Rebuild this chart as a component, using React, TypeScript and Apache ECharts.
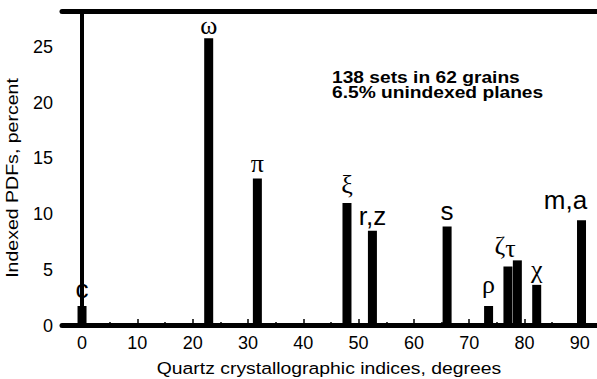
import React, { useEffect, useRef } from 'react';
import * as echarts from 'echarts';

// Quartz crystallographic planes: angle (degrees) and indexed PDFs (percent)
const angles = [0, 22.9, 31.7, 47.9, 52.5, 66.0, 73.5, 77.0, 78.7, 82.2, 90.3];
const percents = [1.75, 25.8, 13.2, 11.0, 8.5, 8.9, 1.75, 5.3, 5.85, 3.65, 9.45];
const planeNames = ['c', 'ω', 'π', 'ξ', 'r,z', 's', 'ρ', 'ζ', 'τ', 'χ', 'm,a'];

const xTickLabels = [0, 10, 20, 30, 40, 50, 60, 70, 80, 90];
const xMinorTicks = [5, 15, 25, 35, 45, 55, 65, 75, 85];
const yTickLabels = [0, 5, 10, 15, 20, 25];

const yTitle = 'Indexed PDFs, percent';
const xTitle = 'Quartz crystallographic indices, degrees';
const noteLines = ['138 sets in 62 grains', '6.5% unindexed planes'];

const greekNames = ['ω', 'π', 'ξ', 'ρ', 'ζ', 'τ', 'χ'];
const labelShift: Record<string, number[]> = {
  'c': [0, -2],
  'ω': [0, 2],
  'ξ': [0, -4],
  'ρ': [0, -7],
  'ζ': [-8, -6],
  'τ': [-7, 3],
  'm,a': [-16, -5],
};

export default function App() {
  const ref = useRef<HTMLDivElement>(null);
  useEffect(() => {
    if (!ref.current) return;
    const chart = echarts.init(ref.current, null, { renderer: 'svg' });
    const sans = '"Liberation Sans", Arial, sans-serif';
    const serif = '"Liberation Serif", "DejaVu Serif", serif';
    const xMin = -3.62;
    const xMax = 93.1;
    const data = angles.map((a, i) => {
      const name = planeNames[i];
      const isGreek = greekNames.indexOf(name) >= 0;
      return {
        name,
        value: [a, percents[i]],
        label: {
          fontFamily: isGreek ? serif : sans,
          offset: labelShift[name] || [0, 0],
        },
      };
    });
    chart.setOption({
      animation: false,
      grid: { left: 62, right: 0, top: 11.5, bottom: 53.5 },
      xAxis: [
        {
          type: 'value',
          position: 'bottom',
          min: xMin,
          max: xMax,
          axisLine: { show: true, lineStyle: { color: '#000', width: 5 } },
          axisTick: {
            show: true,
            inside: true,
            length: 6.5,
            customValues: xTickLabels,
            lineStyle: { color: '#000', width: 1.5 },
          },
          axisLabel: {
            customValues: xTickLabels,
            color: '#000',
            fontSize: 18,
            fontFamily: sans,
            margin: 8,
          },
          splitLine: { show: false },
        },
        {
          type: 'value',
          position: 'bottom',
          min: xMin,
          max: xMax,
          axisLine: { show: false },
          axisTick: {
            show: true,
            inside: true,
            length: 3.5,
            customValues: xMinorTicks,
            lineStyle: { color: '#000', width: 1.5 },
          },
          axisLabel: { show: false },
          splitLine: { show: false },
        },
        {
          type: 'value',
          position: 'top',
          min: xMin,
          max: xMax,
          axisLine: { show: true, lineStyle: { color: '#000', width: 5 } },
          axisTick: { show: false },
          axisLabel: { show: false },
          splitLine: { show: false },
        },
      ],
      yAxis: {
        type: 'value',
        min: 0,
        max: 28.2,
        axisLine: { show: true, lineStyle: { color: '#000', width: 4 } },
        axisTick: { show: false },
        axisLabel: {
          customValues: yTickLabels,
          color: '#000',
          fontSize: 18,
          fontFamily: sans,
          margin: 9,
        },
        splitLine: { show: false },
      },
      series: [
        {
          type: 'bar',
          xAxisIndex: 0,
          barWidth: 9,
          itemStyle: { color: '#000' },
          label: {
            show: true,
            position: 'top',
            distance: 2,
            color: '#000',
            fontSize: 26,
            formatter: (p: any) => p.name,
          },
          data,
        },
      ],
      graphic: [
        {
          type: 'text',
          x: 12,
          y: 178,
          rotation: Math.PI / 2,
          scaleX: 1.15,
          style: {
            text: yTitle,
            font: '17px "Liberation Sans", Arial, sans-serif',
            fill: '#000',
            align: 'center',
            verticalAlign: 'middle',
            textAlign: 'center',
            textVerticalAlign: 'middle',
          },
        },
        {
          type: 'text',
          x: 329,
          y: 368,
          scaleX: 1.14,
          style: {
            text: xTitle,
            font: '17px "Liberation Sans", Arial, sans-serif',
            fill: '#000',
            align: 'center',
            verticalAlign: 'middle',
            textAlign: 'center',
            textVerticalAlign: 'middle',
          },
        },
        {
          type: 'text',
          x: 332,
          y: 69.5,
          scaleX: 1.13,
          style: {
            text: noteLines.join('\n'),
            font: 'bold 17px "Liberation Sans", Arial, sans-serif',
            lineHeight: 15,
            fill: '#000',
            align: 'left',
            verticalAlign: 'top',
            textAlign: 'left',
            textVerticalAlign: 'top',
          },
        },
      ],
    });
    return () => chart.dispose();
  }, []);
  return (
    <div
      ref={ref}
      style={{ position: 'absolute', left: 0, top: 0, width: 597, height: 379 }}
    />
  );
}
